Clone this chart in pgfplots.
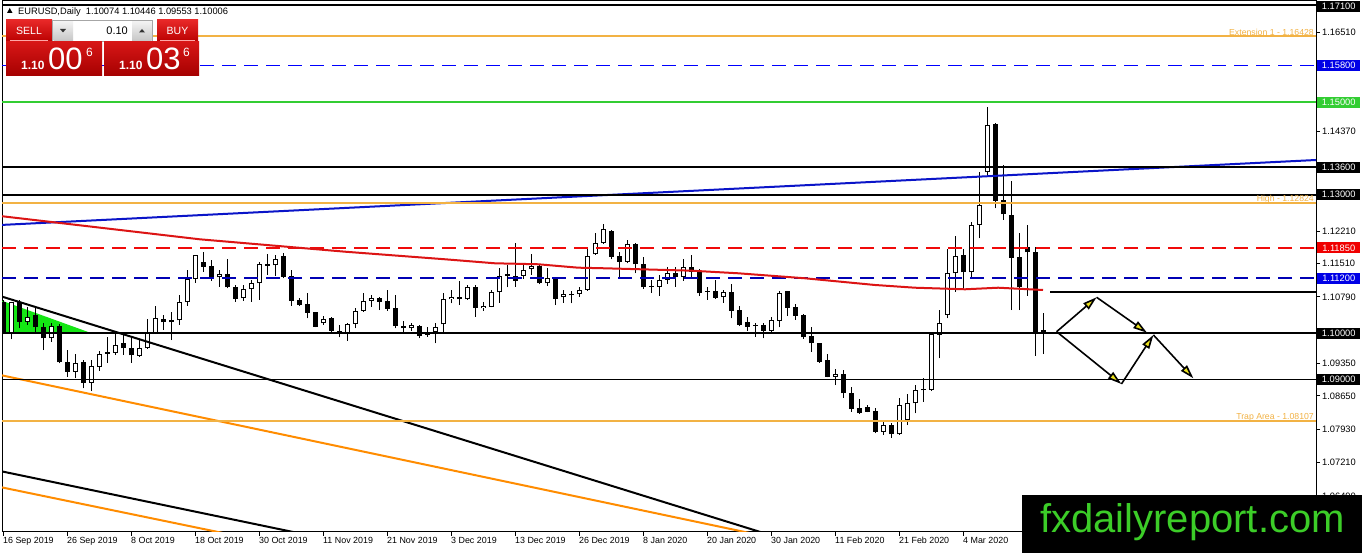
\documentclass[border=0pt]{standalone}
\usepackage{fontspec}
\setmainfont{Liberation Sans}
\usepackage{pgfplots}
\pgfplotsset{compat=1.18}
\usepackage{pgfplotstable}
\usetikzlibrary{arrows.meta}

\definecolor{hlorange}{RGB}{242,178,68}
\definecolor{tlorange}{RGB}{255,140,0}
\definecolor{tlblue}{RGB}{10,20,200}
\definecolor{dashblue}{RGB}{0,0,255}
\definecolor{dashnavy}{RGB}{0,0,180}
\definecolor{dashred}{RGB}{240,10,10}
\definecolor{mtred}{RGB}{220,20,20}
\definecolor{hlgreen}{RGB}{50,205,50}
\definecolor{trigreen}{RGB}{20,230,20}
\definecolor{lblblue}{RGB}{0,0,230}
\definecolor{lblred}{RGB}{240,0,0}
\definecolor{wmgreen}{RGB}{60,205,40}
\definecolor{arrowyellow}{RGB}{235,225,30}
\definecolor{btnTop}{RGB}{232,40,40}
\definecolor{btnBot}{RGB}{185,0,0}
\definecolor{prTop}{RGB}{215,22,22}
\definecolor{prBot}{RGB}{165,0,0}

\pgfplotstableread{
i O H L C
1 1.10004 1.10688 1.09874 1.10674
3 1.10256 1.10580 1.10184 1.10364
6 1.09895 1.10220 1.09823 1.10162
9 1.09175 1.09549 1.09030 1.09355
11 1.08937 1.09427 1.08756 1.09297
12 1.09283 1.09629 1.09196 1.09557
13 1.09557 1.09932 1.09369 1.09593
14 1.09585 1.10040 1.09535 1.09744
17 1.09521 1.09859 1.09499 1.09679
18 1.09679 1.10321 1.09665 1.10018
19 1.10018 1.10595 1.09989 1.10328
21 1.10242 1.10472 1.09859 1.10285
22 1.10285 1.10833 1.10184 1.10674
23 1.10674 1.11373 1.10595 1.11179
24 1.11179 1.11698 1.11099 1.11698
27 1.11215 1.11373 1.11013 1.11287
30 1.10761 1.11049 1.10710 1.10955
31 1.10955 1.11157 1.10688 1.11085
32 1.11085 1.11539 1.10725 1.11496
34 1.11474 1.11698 1.11244 1.11604
40 1.10220 1.10378 1.10184 1.10314
43 1.10018 1.10234 1.09845 1.10205
44 1.10205 1.10544 1.10112 1.10487
45 1.10487 1.10869 1.10472 1.10703
46 1.10703 1.10833 1.10580 1.10761
51 1.10112 1.10220 1.10061 1.10177
53 1.09968 1.10133 1.09932 1.10040
54 1.10040 1.10234 1.09787 1.10133
55 1.10198 1.10869 1.10004 1.10739
56 1.10739 1.10941 1.10652 1.10789
58 1.10739 1.11049 1.10725 1.10998
60 1.10544 1.10688 1.10494 1.10595
61 1.10580 1.10941 1.10566 1.10890
62 1.10890 1.11409 1.10667 1.11251
65 1.11244 1.11517 1.11179 1.11373
66 1.11395 1.11712 1.11265 1.11460
68 1.11085 1.11409 1.11027 1.11193
70 1.10782 1.10941 1.10667 1.10847
72 1.10847 1.11013 1.10797 1.10941
73 1.10941 1.11820 1.10926 1.11683
74 1.11712 1.12166 1.11698 1.11950
75 1.11950 1.12368 1.11936 1.12253
78 1.11554 1.12022 1.11517 1.11928
82 1.11013 1.11265 1.10818 1.11157
83 1.11157 1.11431 1.11071 1.11301
85 1.11229 1.11604 1.11143 1.11445
90 1.10782 1.10941 1.10667 1.10890
96 1.10061 1.10350 1.10018 1.10292
97 1.10270 1.10926 1.10133 1.10883
104 1.09066 1.09225 1.08886 1.09124
110 1.07877 1.08093 1.07805 1.08021
112 1.07819 1.08612 1.07805 1.08454
113 1.08129 1.08684 1.08021 1.08490
114 1.08490 1.08886 1.08273 1.08778
116 1.08778 1.10025 1.08756 1.09982
117 1.09968 1.10508 1.09463 1.10220
118 1.10400 1.11828 1.10328 1.11301
119 1.11301 1.12116 1.10905 1.11683
121 1.11323 1.12419 1.11179 1.12347
122 1.12347 1.13500 1.12058 1.12779
123 1.13486 1.14906 1.13414 1.14509
}\bull

\pgfplotstableread{
i O H L C
0 1.10688 1.10725 1.09989 1.10004
2 1.10688 1.10725 1.10112 1.10256
4 1.10400 1.10580 1.10040 1.10133
5 1.10133 1.10220 1.09643 1.09895
7 1.10162 1.10205 1.09355 1.09376
8 1.09376 1.09643 1.09066 1.09175
10 1.09376 1.09427 1.08814 1.08937
15 1.09787 1.10004 1.09535 1.09679
16 1.09679 1.09917 1.09369 1.09528
20 1.10314 1.10400 1.10076 1.10242
25 1.11554 1.11770 1.11337 1.11445
26 1.11460 1.11590 1.11143 1.11179
28 1.11287 1.11604 1.10977 1.10998
29 1.10998 1.11049 1.10688 1.10746
33 1.11503 1.11719 1.11265 1.11467
35 1.11676 1.11734 1.11193 1.11229
36 1.11244 1.11373 1.10595 1.10710
37 1.10725 1.10761 1.10595 1.10616
38 1.10638 1.10883 1.10328 1.10451
39 1.10465 1.10472 1.10133 1.10148
41 1.10328 1.10350 1.10018 1.10061
42 1.10061 1.10184 1.09917 1.10004
47 1.10761 1.10797 1.10508 1.10688
48 1.10710 1.10941 1.10494 1.10530
49 1.10544 1.10833 1.10112 1.10162
50 1.10162 1.10278 1.10004 1.10112
52 1.10162 1.10177 1.09895 1.09946
57 1.10782 1.11135 1.10616 1.10739
59 1.10998 1.11049 1.10364 1.10559
63 1.11287 1.11481 1.10998 1.11251
64 1.11244 1.11950 1.11013 1.11143
67 1.11460 1.11481 1.11063 1.11085
69 1.11171 1.11229 1.10616 1.10753
71 1.10847 1.10926 1.10652 1.10825
76 1.12217 1.12238 1.11604 1.11662
77 1.11676 1.11770 1.11229 1.11554
79 1.11936 1.11950 1.11301 1.11496
80 1.11503 1.11662 1.10962 1.10998
81 1.11027 1.11157 1.10883 1.11013
84 1.11316 1.11431 1.11013 1.11229
86 1.11445 1.11698 1.11229 1.11337
87 1.11337 1.11388 1.10818 1.10869
88 1.10919 1.11013 1.10725 1.10905
89 1.10919 1.11157 1.10746 1.10775
91 1.10905 1.11071 1.10328 1.10494
92 1.10508 1.10595 1.10162 1.10184
93 1.10242 1.10350 1.10061 1.10148
94 1.10184 1.10220 1.09932 1.10162
95 1.10184 1.10234 1.09895 1.10061
98 1.10919 1.10926 1.10378 1.10559
99 1.10580 1.10631 1.10292 1.10386
100 1.10400 1.10422 1.09881 1.09917
101 1.09946 1.10133 1.09607 1.09787
102 1.09802 1.09802 1.09369 1.09391
103 1.09427 1.09549 1.09052 1.09066
105 1.09124 1.09211 1.08612 1.08706
106 1.08720 1.08850 1.08309 1.08367
107 1.08382 1.08576 1.08259 1.08273
108 1.08418 1.08454 1.08295 1.08310
109 1.08324 1.08382 1.07841 1.07877
111 1.08021 1.08057 1.07747 1.07819
115 1.08800 1.09045 1.08526 1.08771
120 1.11698 1.11828 1.10955 1.11323
124 1.14524 1.14545 1.12707 1.12866
125 1.12887 1.13644 1.12455 1.12577
126 1.12563 1.13298 1.10508 1.11640
127 1.11654 1.12166 1.10508 1.11013
128 1.11871 1.12347 1.10818 1.11755
129 1.11770 1.11878 1.09521 1.10025
130 1.10074 1.10446 1.09553 1.10006
}\bear

\begin{document}
\begin{tikzpicture}
\fill[white] (0,0) rectangle (1362pt,553pt);
\useasboundingbox (0,0) rectangle (1362pt,553pt);
\begin{axis}[
  at={(2pt,21pt)}, anchor=south west,
  scale only axis, width=1314pt, height=531pt,
  xmin=-0.125, xmax=164.125, ymin=1.057072, ymax=1.171907,
  axis line style={black, line width=1pt},
  tick style={black, line width=1pt},
  tick align=outside, major tick length=4pt,
  ytick pos=right, yticklabel pos=right, xtick pos=bottom,
  ytick={1.0649,1.0721,1.0793,1.0865,1.0935,1.1007,1.1079,1.1151,1.1221,1.1293,1.1365,1.1437,1.1507,1.1579,1.1651},
  yticklabels={1.06490,1.07210,1.07930,1.08650,1.09350,,1.10790,1.11510,1.12210,,,1.14370,,,1.16510},
  y tick label style={anchor=west, inner sep=0pt, xshift=2pt, font=\fontsize{9.3}{11}\selectfont},
  xtick={0,8,16,24,32,40,48,56,64,72,80,88,96,104,112,120},
  xticklabels={16 Sep 2019,26 Sep 2019,8 Oct 2019,18 Oct 2019,30 Oct 2019,11 Nov 2019,21 Nov 2019,3 Dec 2019,13 Dec 2019,26 Dec 2019,8 Jan 2020,20 Jan 2020,30 Jan 2020,11 Feb 2020,21 Feb 2020,4 Mar 2020},
  x tick label style={anchor=north west, inner sep=0pt, yshift=-1pt, font=\fontsize{8.9}{10}\selectfont},
  clip=true,
]
% green triangle
\addplot[fill=trigreen, draw=none] coordinates {(-0.375,1.10724) (11,1.1001) (-0.375,1.1001)} -- cycle;

% wicks
\addplot[draw=none, mark=none, error bars/.cd, y dir=plus, y explicit, error mark=none,
  error bar style={draw=black, solid, line width=1pt}]
  table[x=i, y=L, y error plus expr={\thisrow{H}-\thisrow{L}}] {\bull};
\addplot[draw=none, mark=none, error bars/.cd, y dir=plus, y explicit, error mark=none,
  error bar style={draw=black, solid, line width=1pt}]
  table[x=i, y=L, y error plus expr={\thisrow{H}-\thisrow{L}}] {\bear};
% bear bodies
\addplot[draw=none, mark=none, error bars/.cd, y dir=plus, y explicit, error mark=none,
  error bar style={draw=black, solid, line width=5pt}]
  table[x=i, y=C, y error plus expr={max(\thisrow{O}-\thisrow{C},0.00022)}] {\bear};
% bull bodies
\addplot[draw=none, mark=none, error bars/.cd, y dir=plus, y explicit, error mark=none,
  error bar style={draw=black, solid, line width=5pt}]
  table[x=i, y=O, y error plus expr={max(\thisrow{C}-\thisrow{O},0.00022)}] {\bull};
\addplot[draw=none, mark=none, error bars/.cd, y dir=plus, y explicit, error mark=none,
  error bar style={draw=white, solid, line width=3pt}]
  table[x=i, y expr={\thisrow{O}+0.00022}, y error plus expr={max(\thisrow{C}-\thisrow{O}-0.00044,0)}] {\bull};

% trend lines
\addplot[black, line width=2pt] coordinates {(-0.375,1.10811) (100,1.05421)};
\addplot[black, line width=2pt] coordinates {(-0.375,1.07026) (50,1.05213)};
\addplot[tlorange, line width=2pt] coordinates {(-0.375,1.09103) (100,1.05442)};
\addplot[tlorange, line width=2pt] coordinates {(-0.375,1.06680) (40,1.05239)};
\addplot[tlblue, line width=2pt] coordinates {(-0.375,1.12346) (164.125,1.13752)};

% horizontal levels
\addplot[black, line width=2pt] coordinates {(-0.125,1.171) (164.125,1.171)};
\addplot[hlorange, line width=2pt] coordinates {(-0.125,1.16428) (164.125,1.16428)};
\addplot[dashblue, line width=1.5pt, dash pattern=on 14pt off 8pt] coordinates {(-0.125,1.158) (164.125,1.158)};
\addplot[hlgreen, line width=2pt] coordinates {(-0.125,1.15) (164.125,1.15)};
\addplot[black, line width=2pt] coordinates {(-0.125,1.136) (164.125,1.136)};
\addplot[black, line width=2pt] coordinates {(-0.125,1.13) (164.125,1.13)};
\addplot[hlorange, line width=2pt] coordinates {(-0.125,1.12824) (164.125,1.12824)};
\addplot[dashred, line width=1.25pt, dash pattern=on 14pt off 8pt] coordinates {(-0.125,1.1185) (164.125,1.1185)};
\addplot[dashnavy, line width=1.1pt, dash pattern=on 14pt off 8pt] coordinates {(-0.125,1.112) (164.125,1.112)};
\addplot[black, line width=2pt] coordinates {(-0.125,1.1) (164.125,1.1)};
\addplot[black, line width=1pt] coordinates {(-0.125,1.09) (164.125,1.09)};
\addplot[hlorange, line width=2pt] coordinates {(-0.125,1.08107) (164.125,1.08107)};
\addplot[black, line width=2pt] coordinates {(130.9,1.10904) (164.125,1.10904)};

% moving average
\addplot[mtred, line width=2pt] coordinates {
(-0.375,1.12541) (24.6,1.12037) (42.75,1.11769) (55.25,1.11605) (61.5,1.11518)
(66.9,1.11497) (71.9,1.11423) (75.25,1.11410) (86.1,1.11358) (91.9,1.11302)
(100.25,1.11194) (109,1.11049) (114,1.10990) (120.25,1.10956) (124.4,1.10990) (130,1.10941)};

% arrows
\begin{scope}[line width=1.6pt, black, -{Triangle[length=14pt, width=8pt, fill=arrowyellow]}]
\draw (axis cs:131.7,1.10039) -- (axis cs:136.7,1.10783);
\draw (axis cs:136.7,1.10783) -- (axis cs:143.0,1.10017);
\draw (axis cs:143.8,1.09968) -- (axis cs:148.8,1.09031);
\draw (axis cs:131.7,1.10039) -- (axis cs:139.8,1.08908);
\draw (axis cs:139.8,1.08908) -- (axis cs:143.8,1.09968);
\end{scope}

% level captions
\node[anchor=base east, inner sep=0pt, text=hlorange, font=\fontsize{8.7}{10}\selectfont] at ([xshift=-2pt,yshift=1pt]axis cs:164.125,1.16428) {Extension 1 - 1.16428};
\node[anchor=base east, inner sep=0pt, text=hlorange, font=\fontsize{8.7}{10}\selectfont] at ([xshift=-2pt,yshift=1pt]axis cs:164.125,1.12824) {High - 1.12824};
\node[anchor=base east, inner sep=0pt, text=hlorange, font=\fontsize{8.7}{10}\selectfont] at ([xshift=-2pt,yshift=1.5pt]axis cs:164.125,1.08107) {Trap Area - 1.08107};

\coordinate (r1) at (axis cs:164.125,1.171);
\coordinate (r2) at (axis cs:164.125,1.158);
\coordinate (r3) at (axis cs:164.125,1.15);
\coordinate (r4) at (axis cs:164.125,1.136);
\coordinate (r5) at (axis cs:164.125,1.13);
\coordinate (r6) at (axis cs:164.125,1.1185);
\coordinate (r7) at (axis cs:164.125,1.112);
\coordinate (r8) at (axis cs:164.125,1.1);
\coordinate (r9) at (axis cs:164.125,1.09);
\end{axis}

% right-side price boxes
\tikzset{pbox/.style={anchor=west, minimum width=43pt, minimum height=11pt, inner sep=0pt, text=white, font=\fontsize{9.3}{11}\selectfont}}
\node[pbox, fill=black] at ([xshift=1pt,yshift=-1.5pt]r1) {1.17100};
\node[pbox, fill=lblblue] at ([xshift=1pt]r2) {1.15800};
\node[pbox, fill=hlgreen] at ([xshift=1pt]r3) {1.15000};
\node[pbox, fill=black] at ([xshift=1pt]r4) {1.13600};
\node[pbox, fill=black] at ([xshift=1pt]r5) {1.13000};
\node[pbox, fill=lblred] at ([xshift=1pt]r6) {1.11850};
\node[pbox, fill=lblblue] at ([xshift=1pt]r7) {1.11200};
\node[pbox, fill=black] at ([xshift=1pt]r8) {1.10000};
\node[pbox, fill=black] at ([xshift=1pt]r9) {1.09000};

\begin{scope}[x=1pt, y=1pt]
% title
\fill[black] (7,540) -- (12.5,540) -- (9.75,545) -- cycle;
\node[anchor=base west, inner sep=0pt, font=\fontsize{9.3}{11}\selectfont] at (18,538.5) {EURUSD,Daily\ \ 1.10074 1.10446 1.09553 1.10006};
% one-click panel
\shade[top color=btnTop, bottom color=btnBot] (6,533) rectangle (52,511);
\node[text=white, font=\fontsize{10.5}{12}\selectfont] at (29,522.5) {SELL};
\draw[red!35!white, line width=0.6pt] (10,512.2) -- (48,512.2);
\fill[white] (52,533) rectangle (153,511);
\draw[black!35, line width=0.8pt] (52.4,532.6) rectangle (152.6,511.4);
\shade[top color=black!5, bottom color=black!22] (53.5,531.5) rectangle (73,512.5);
\shade[top color=black!5, bottom color=black!22] (132,531.5) rectangle (151.5,512.5);
\fill[black!80] (60,524) -- (66,524) -- (63,520.5) -- cycle;
\fill[black!80] (139,520.5) -- (145,520.5) -- (142,524) -- cycle;
\node[anchor=east, inner sep=0pt, font=\fontsize{11}{13}\selectfont] at (128,522) {0.10};
\shade[top color=btnTop, bottom color=btnBot] (157,533) rectangle (198,511);
\node[text=white, font=\fontsize{10.5}{12}\selectfont] at (177.5,522.5) {BUY};
\draw[red!35!white, line width=0.6pt] (160,512.2) -- (195,512.2);
\shade[top color=prTop, bottom color=prBot] (6,511) rectangle (102,477);
\shade[top color=prTop, bottom color=prBot] (104,511) rectangle (199,477);
\node[anchor=base west, inner sep=0pt, text=white, font=\bfseries\fontsize{12}{12}\selectfont] at (21,483) {1.10};
\node[anchor=base west, inner sep=0pt, text=white, font=\fontsize{31}{31}\selectfont] at (48,483) {00};
\node[anchor=base west, inner sep=0pt, text=white, font=\fontsize{12}{12}\selectfont] at (86,496) {6};
\node[anchor=base west, inner sep=0pt, text=white, font=\bfseries\fontsize{12}{12}\selectfont] at (119,483) {1.10};
\node[anchor=base west, inner sep=0pt, text=white, font=\fontsize{31}{31}\selectfont] at (146,483) {03};
\node[anchor=base west, inner sep=0pt, text=white, font=\fontsize{12}{12}\selectfont] at (183,496) {6};
% watermark
\fill[black] (1022,0) rectangle (1362,58);
\node[anchor=base west, inner sep=0pt, text=wmgreen, font=\fontsize{40}{40}\selectfont] at (1040,20) {fxdailyreport.com};
\end{scope}
\end{tikzpicture}
\end{document}
